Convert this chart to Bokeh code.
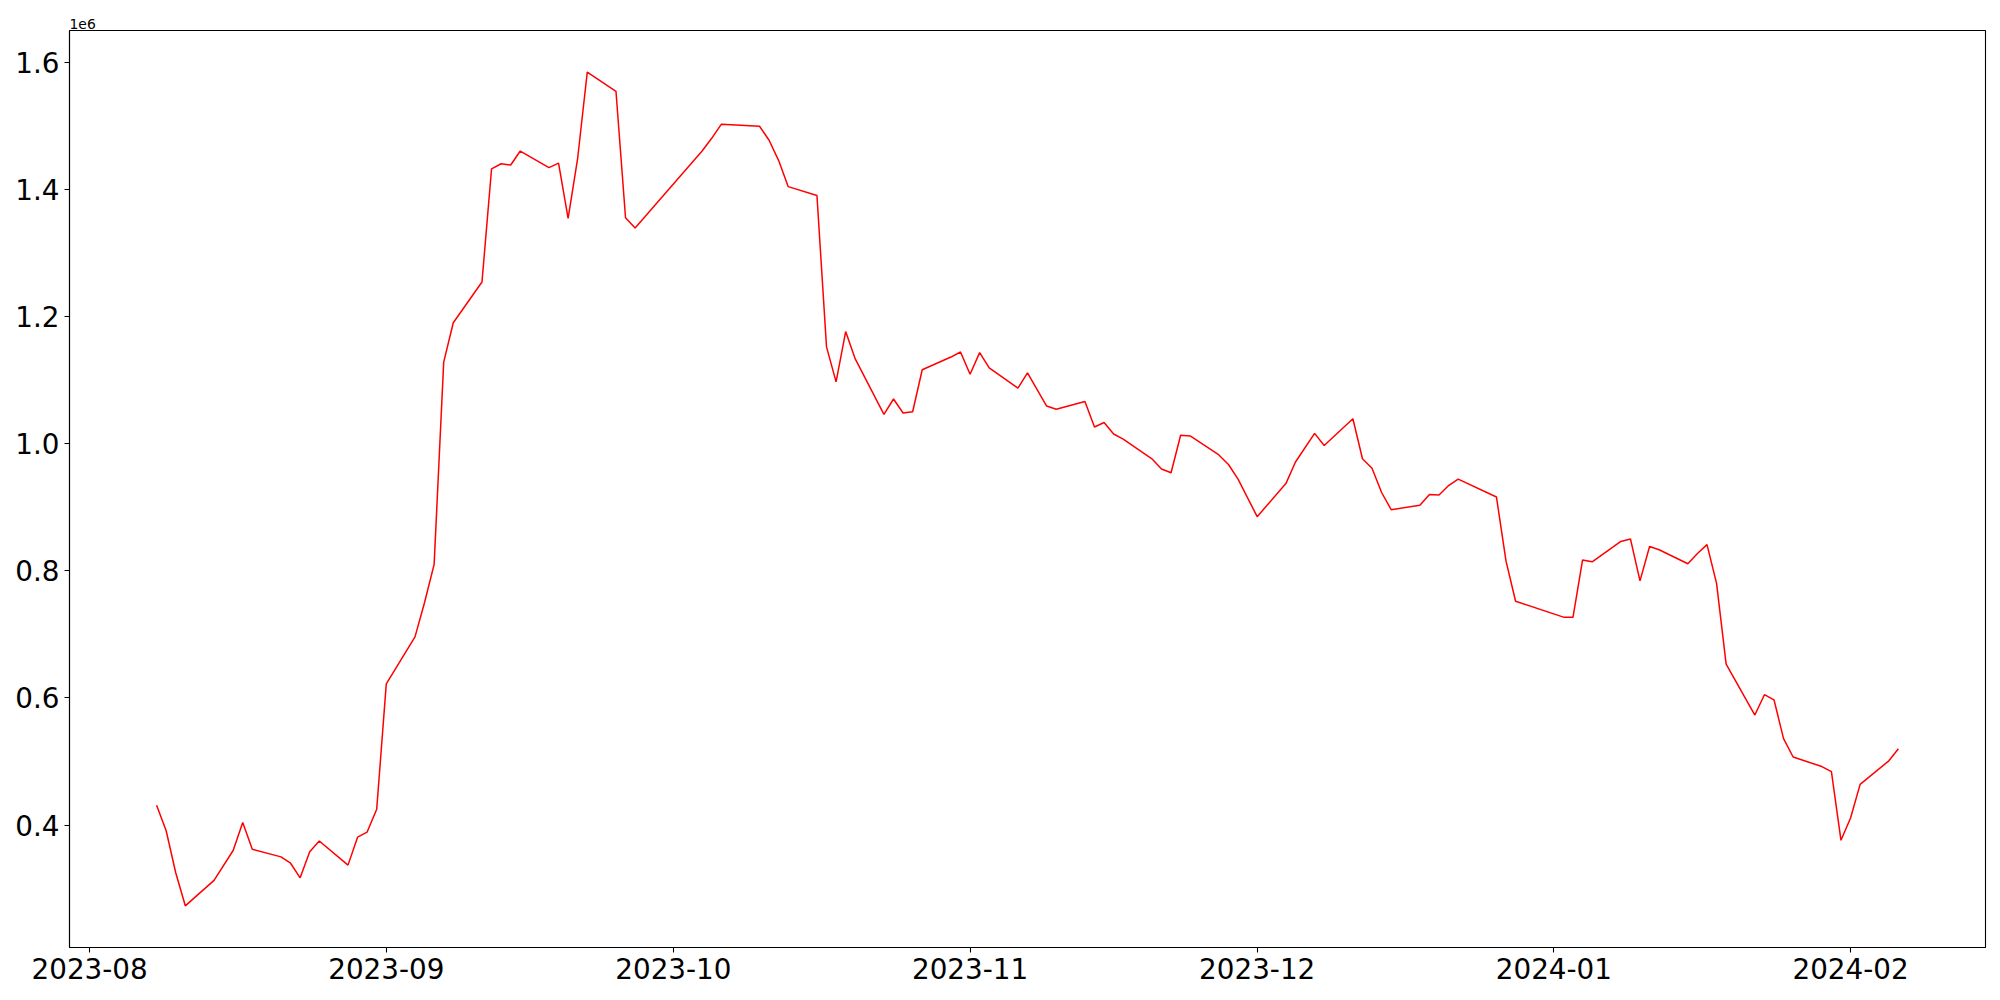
import pandas as pd
from bokeh.plotting import figure
from bokeh.models import (Range1d, MonthsTicker, DatetimeTickFormatter,
                          SingleIntervalTicker, CustomJSTickFormatter)
from bokeh.embed import file_html
from bokeh.resources import INLINE

# ---- data (values in units of 1e6) ----
dates = [
    "2023-08-08", "2023-08-09", "2023-08-10", "2023-08-11", "2023-08-14", "2023-08-16",
    "2023-08-17", "2023-08-18", "2023-08-21", "2023-08-22", "2023-08-23", "2023-08-24",
    "2023-08-25", "2023-08-28", "2023-08-29", "2023-08-30", "2023-08-31", "2023-09-01",
    "2023-09-04", "2023-09-05", "2023-09-06", "2023-09-07", "2023-09-08", "2023-09-11",
    "2023-09-12", "2023-09-13", "2023-09-14", "2023-09-15", "2023-09-18", "2023-09-19",
    "2023-09-20", "2023-09-21", "2023-09-22", "2023-09-25", "2023-09-26", "2023-09-27",
    "2023-10-04", "2023-10-05", "2023-10-06", "2023-10-10", "2023-10-11", "2023-10-12",
    "2023-10-13", "2023-10-16", "2023-10-17", "2023-10-18", "2023-10-19", "2023-10-20",
    "2023-10-23", "2023-10-24", "2023-10-25", "2023-10-26", "2023-10-27", "2023-10-30",
    "2023-10-31", "2023-11-01", "2023-11-02", "2023-11-03", "2023-11-06", "2023-11-07",
    "2023-11-09", "2023-11-10", "2023-11-13", "2023-11-14", "2023-11-15", "2023-11-16",
    "2023-11-17", "2023-11-20", "2023-11-21", "2023-11-22", "2023-11-23", "2023-11-24",
    "2023-11-27", "2023-11-28", "2023-11-29", "2023-12-01", "2023-12-04", "2023-12-05",
    "2023-12-07", "2023-12-08", "2023-12-11", "2023-12-12", "2023-12-13", "2023-12-14",
    "2023-12-15", "2023-12-18", "2023-12-19", "2023-12-20", "2023-12-21", "2023-12-22",
    "2023-12-26", "2023-12-27", "2023-12-28", "2024-01-02", "2024-01-03", "2024-01-04",
    "2024-01-05", "2024-01-08", "2024-01-09", "2024-01-10", "2024-01-11", "2024-01-12",
    "2024-01-15", "2024-01-16", "2024-01-17", "2024-01-18", "2024-01-19", "2024-01-22",
    "2024-01-23", "2024-01-24", "2024-01-25", "2024-01-26", "2024-01-29", "2024-01-30",
    "2024-01-31", "2024-02-01", "2024-02-02", "2024-02-05", "2024-02-06",
]
values_m = [
    0.431, 0.391, 0.325, 0.273, 0.313, 0.360,
    0.404, 0.362, 0.350, 0.340, 0.317, 0.358,
    0.375, 0.337, 0.381, 0.389, 0.425, 0.622,
    0.696, 0.750, 0.810, 1.128, 1.190, 1.254,
    1.432, 1.440, 1.438, 1.460, 1.434, 1.441,
    1.354, 1.449, 1.584, 1.554, 1.355, 1.339,
    1.460, 1.480, 1.502, 1.499, 1.477, 1.445,
    1.404, 1.390, 1.152, 1.097, 1.176, 1.133,
    1.046, 1.070, 1.048, 1.050, 1.116, 1.136,
    1.144, 1.109, 1.143, 1.119, 1.087, 1.111,
    1.059, 1.054, 1.066, 1.026, 1.033, 1.015,
    1.007, 0.976, 0.960, 0.954, 1.013, 1.012,
    0.982, 0.967, 0.944, 0.885, 0.937, 0.971,
    1.016, 0.997, 1.039, 0.976, 0.961, 0.923,
    0.896, 0.903, 0.920, 0.919, 0.934, 0.944,
    0.916, 0.815, 0.752, 0.727, 0.727, 0.817,
    0.814, 0.846, 0.850, 0.784, 0.838, 0.833,
    0.811, 0.827, 0.841, 0.780, 0.653, 0.573,
    0.605, 0.597, 0.536, 0.507, 0.492, 0.484,
    0.376, 0.411, 0.464, 0.501, 0.520,
]
y_tick_interval = 0.2e6
offset_text = "1e6"

x = pd.to_datetime(dates)
y = [v * 1e6 for v in values_m]

# matplotlib-like 5% margins
xmin, xmax = x.min(), x.max()
xpad = (xmax - xmin) * 0.05
ymin, ymax = min(y), max(y)
ypad = (ymax - ymin) * 0.05

FONT = "DejaVu Sans"

p = figure(width=2000, height=1000, output_backend="svg", toolbar_location=None,
           x_axis_type="datetime",
           x_range=Range1d(xmin - xpad, xmax + xpad),
           y_range=Range1d(ymin - ypad, ymax + ypad),
           min_border_left=69, min_border_right=15, min_border_top=30, min_border_bottom=53)

p.line(x, y, line_color="red", line_width=1.5)

p.title.text = offset_text
p.title.align = "left"
p.title.text_font = FONT
p.title.text_font_size = "13.9px"
p.title.text_font_style = "normal"
p.title.text_color = "black"
p.title.standoff = 3
p.title.offset = 0

p.xgrid.visible = False
p.ygrid.visible = False
p.background_fill_color = "white"
p.border_fill_color = "white"
p.outline_line_color = "black"
p.outline_line_width = 1.1

p.xaxis.ticker = MonthsTicker(months=list(range(1, 13)))
p.xaxis.formatter = DatetimeTickFormatter(months="%Y-%m", days="%Y-%m", years="%Y-%m")
p.yaxis.ticker = SingleIntervalTicker(interval=y_tick_interval)
p.yaxis.formatter = CustomJSTickFormatter(code="return (tick/1e6).toFixed(1);")

for ax in (p.xaxis[0], p.yaxis[0]):
    ax.axis_line_color = "black"
    ax.axis_line_width = 1.1
    ax.major_tick_line_color = "black"
    ax.major_tick_line_width = 1.1
    ax.major_tick_out = 5
    ax.major_tick_in = 0
    ax.minor_tick_out = 0
    ax.minor_tick_in = 0
    ax.major_label_text_font = FONT
    ax.major_label_text_font_size = "27.8px"
    ax.major_label_text_color = "black"
    ax.major_label_standoff = 5

open("out.html", "w").write(file_html(p, INLINE))
